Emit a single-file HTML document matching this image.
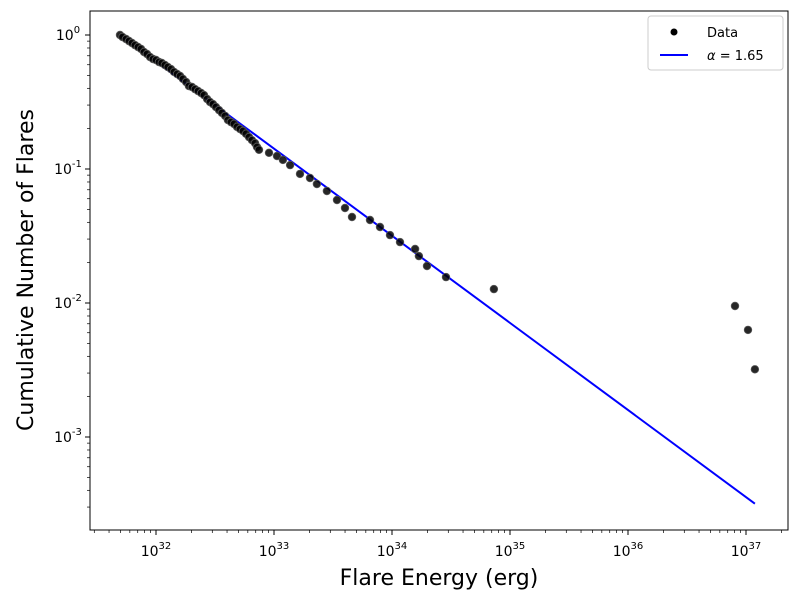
<!DOCTYPE html>
<html><head><meta charset="utf-8"><style>
html,body{margin:0;padding:0;background:#fff;}
svg text{font-family:"DejaVu Sans","Liberation Sans",sans-serif;}
</style></head><body>
<svg id="chart" width="798" height="600" viewBox="0 0 798 600" xmlns="http://www.w3.org/2000/svg">
<rect x="0" y="0" width="798" height="600" fill="#fff"/>
<g id="grid"></g>
<polyline id="fit" fill="none" stroke="#0000ff" stroke-width="2"/>
<g id="pts"></g>
<rect x="90" y="11" width="698" height="519" fill="none" stroke="#000" stroke-width="1"/>
<g id="axes"></g>
<text x="439" y="585" font-size="22" text-anchor="middle">Flare Energy (erg)</text>
<text x="0" y="0" font-size="22" text-anchor="middle" transform="translate(33,270) rotate(-90)">Cumulative Number of Flares</text>
<g>
<rect x="648" y="16" width="135" height="54" rx="3" fill="#fff" stroke="#ccc"/>
<circle cx="674" cy="32" r="3.5" fill="#000"/>
<text x="707" y="37" font-size="13">Data</text>
<line x1="660" y1="55" x2="688" y2="55" stroke="#0000ff" stroke-width="2"/>
<text x="707" y="60" font-size="13"><tspan font-style="italic">α</tspan> = 1.65</text>
</g>
</svg>
<script>
// Energies in units of 1e32 erg
const energies = [0.495,0.52,0.557,0.59,0.626,0.664,0.704,0.746,0.791,0.839,0.889,0.943,1.0,1.06,1.12,1.19,1.26,1.34,1.42,1.51,1.60,1.69,1.80,1.90,2.02,2.14,2.27,2.41,2.55,2.71,2.87,3.04,3.22,3.42,3.62,3.85,4.07,4.32,4.58,4.86,5.15,5.46,5.79,6.14,6.51,6.90,7.18,7.46,9.07,10.6,11.9,13.7,16.6,20.2,23.1,28.1,34.2,40.0,45.8,65.1,79.1,96.1,117,157,169,198,287,731,80700,104000,119000];
const cumulative = [1,0.966,0.933,0.902,0.871,0.841,0.813,0.787,0.747,0.721,0.685,0.662,0.651,0.629,0.618,0.597,0.577,0.557,0.530,0.512,0.494,0.470,0.446,0.416,0.409,0.395,0.382,0.369,0.356,0.333,0.316,0.305,0.290,0.275,0.262,0.249,0.232,0.224,0.217,0.206,0.199,0.192,0.183,0.173,0.164,0.156,0.146,0.139,0.132,0.125,0.117,0.107,0.092,0.0857,0.0773,0.0685,0.0587,0.0512,0.0438,0.0416,0.0369,0.0321,0.0285,0.0253,0.0224,0.0189,0.0156,0.0127,0.0095,0.0063,0.0032];
const alpha = 1.65;
const xTickExps = [32,33,34,35,36,37];
const yTickExps = [0,-1,-2,-3];

const NS="http://www.w3.org/2000/svg";
const X0=156, XD=118, Y0=35, YD=134;
function xs(e){return X0+XD*(Math.log10(e)-32);}
function ys(n){return Y0-YD*Math.log10(n);}
const axes=document.getElementById('axes');
function mk(tag,attrs,parent){const el=document.createElementNS(NS,tag);for(const k in attrs)el.setAttribute(k,attrs[k]);parent.appendChild(el);return el;}

const emin=Math.min(...energies)*1e32, emax=Math.max(...energies)*1e32;
const fit=document.getElementById('fit');
let pp=[];
for(const e of [emin,emax]){pp.push(xs(e).toFixed(1)+','+ys(Math.pow(e/emin,-(alpha-1))).toFixed(1));}
fit.setAttribute('points',pp.join(' '));

const g=document.getElementById('pts');
energies.forEach((e,i)=>{
  const c=mk('circle',{cx:xs(e*1e32).toFixed(1),cy:ys(cumulative[i]).toFixed(1),r:3.8,fill:'#000',stroke:'#555','stroke-width':0.8,'fill-opacity':0.85},g);
  
  
});

for(let d=31;d<=37;d++){
  for(let m=1;m<10;m++){
    const x=X0+XD*(d-32+Math.log10(m));
    if(x<90||x>788)continue;
    mk('line',{x1:x,y1:530,x2:x,y2:530+(m===1?5:3),stroke:'#000','stroke-width':m===1?1:0.7},axes);
  }
}
xTickExps.forEach(p=>{
  const x=X0+XD*(p-32);
  const t=mk('text',{x:x,y:556,'font-size':14,'text-anchor':'middle'},axes);
  
  
  t.innerHTML='10<tspan dy="-7" font-size="10">'+p+'</tspan>';
});
for(let d=-4;d<=0;d++){
  for(let m=1;m<10;m++){
    const y=Y0-YD*(d+Math.log10(m));
    if(y<11||y>530)continue;
    mk('line',{x1:90,y1:y,x2:90-(m===1?5:3),y2:y,stroke:'#000','stroke-width':m===1?1:0.7},axes);
  }
}
yTickExps.forEach(p=>{
  const y=Y0-YD*p;
  const t=mk('text',{x:68,y:y+5,'font-size':14,'text-anchor':'middle'},axes);
  
  
  t.innerHTML='10<tspan dy="-7" font-size="10">'+p+'</tspan>';
});
</script>
</body></html>
